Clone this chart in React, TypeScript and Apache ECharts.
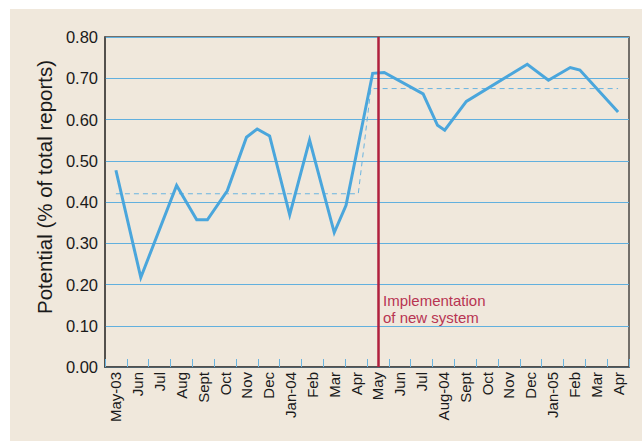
import React, { useEffect, useRef } from "react";
import * as echarts from "echarts";

const monthLabels = ["May-03", "Jun", "Jul", "Aug", "Sept", "Oct", "Nov", "Dec", "Jan-04", "Feb", "Mar", "Apr", "May", "Jun", "Jul", "Aug-04", "Sept", "Oct", "Nov", "Dec", "Jan-05", "Feb", "Mar", "Apr"];
const monthKeys = monthLabels.map((_, i) => String(i));

// vertices of the monthly potential line (x = month index, y = value)
const lineX = [0, 1.14, 2.78, 3.7, 4.19, 5.1, 5.98, 6.47, 7.04, 7.96, 8.87, 10.0, 10.54, 11.76, 12.29, 14.07, 14.73, 15.06, 16.05, 18.84, 19.81, 20.81, 21.25, 23.0];
const lineY = [0.477, 0.217, 0.44, 0.357, 0.357, 0.427, 0.557, 0.577, 0.56, 0.369, 0.55, 0.326, 0.392, 0.712, 0.714, 0.662, 0.586, 0.574, 0.644, 0.734, 0.695, 0.726, 0.72, 0.618];

// mean before / after
const meanX = [0, 11.1, 11.68, 23.0];
const meanY = [0.42, 0.42, 0.675, 0.675];

const implementationMonth = 12;
const yTicks = [0, 0.1, 0.2, 0.3, 0.4, 0.5, 0.6, 0.7, 0.8];

const FONT = '"Liberation Sans", Arial, Helvetica, sans-serif';

export default function App() {
  const ref = useRef<HTMLDivElement>(null);
  useEffect(() => {
    if (!ref.current) return;
    const chart = echarts.init(ref.current, null, { renderer: "svg" });
    chart.setOption({
      animation: false,
      backgroundColor: "transparent",
      textStyle: { fontFamily: FONT },
      grid: {
        left: 105,
        right: 13,
        top: 37,
        bottom: 74,
        show: true,
        borderColor: "#4a4744",
        borderWidth: 1.5,
        containLabel: false,
      },
      xAxis: [
        {
          type: "category",
          data: monthKeys,
          boundaryGap: true,
          axisLine: { show: true, onZero: false, lineStyle: { color: "#4a4744", width: 1.5 } },
          axisTick: { show: true, inside: true, length: 8, interval: 0, lineStyle: { color: "#6ab4e0", width: 1 } },
          axisLabel: {
            interval: 0,
            rotate: 90,
            margin: 5,
            fontSize: 15,
            color: "#1a1a1a",
            fontFamily: FONT,
            formatter: (_v: string, i: number) => monthLabels[i],
          },
          splitLine: { show: false },
        },
        {
          type: "value",
          min: -0.5,
          max: 23.5,
          show: false,
        },
      ],
      yAxis: {
        type: "value",
        min: yTicks[0],
        max: yTicks[yTicks.length - 1],
        interval: 0.1,
        axisLine: { show: true, onZero: false, lineStyle: { color: "#4a4744", width: 1.5 } },
        axisTick: { show: false },
        axisLabel: {
          margin: 7,
          fontSize: 16.5,
          color: "#1a1a1a",
          fontFamily: FONT,
          formatter: (v: number) => v.toFixed(2),
        },
        splitLine: { show: true, lineStyle: { color: "#62b0de", width: 1.2 } },
      },
      graphic: [
        {
          type: "text",
          x: 44,
          y: 187,
          rotation: Math.PI / 2,
          style: {
            text: "Potential (% of total reports)",
            fontSize: 20.5,
            fontFamily: FONT,
            fill: "#1a1a1a",
            textAlign: "center",
            textVerticalAlign: "middle",
          },
        },
        {
          type: "text",
          x: 383,
          y: 292,
          style: {
            text: "Implementation\nof new system",
            fontSize: 15,
            lineHeight: 17,
            fontFamily: FONT,
            fill: "#b83452",
            textAlign: "left",
            textVerticalAlign: "top",
          },
        },
      ],
      series: [
        {
          type: "line",
          xAxisIndex: 1,
          data: meanX.map((x, i) => [x, meanY[i]]),
          symbol: "none",
          lineStyle: { color: "#6ab4e0", width: 1, type: [5, 4] },
          z: 3,
        },
        {
          type: "line",
          xAxisIndex: 1,
          data: lineX.map((x, i) => [x, lineY[i]]),
          symbol: "none",
          lineStyle: { color: "#4aa6dc", width: 3, join: "miter" },
          z: 4,
          markLine: {
            silent: true,
            symbol: "none",
            label: { show: false },
            lineStyle: { color: "#b0203e", width: 2.5, type: "solid" },
            data: [{ xAxis: implementationMonth }],
            z: 5,
          },
        },
      ],
    });
    return () => chart.dispose();
  }, []);

  return (
    <div style={{ position: "absolute", left: 0, top: 0, width: 642, height: 441, background: "#ffffff" }}>
      <div style={{ position: "absolute", left: 10, top: 9, width: 632, height: 432, background: "#f0e8dc" }} />
      <div ref={ref} style={{ position: "absolute", left: 0, top: 0, width: 642, height: 441 }} />
    </div>
  );
}
